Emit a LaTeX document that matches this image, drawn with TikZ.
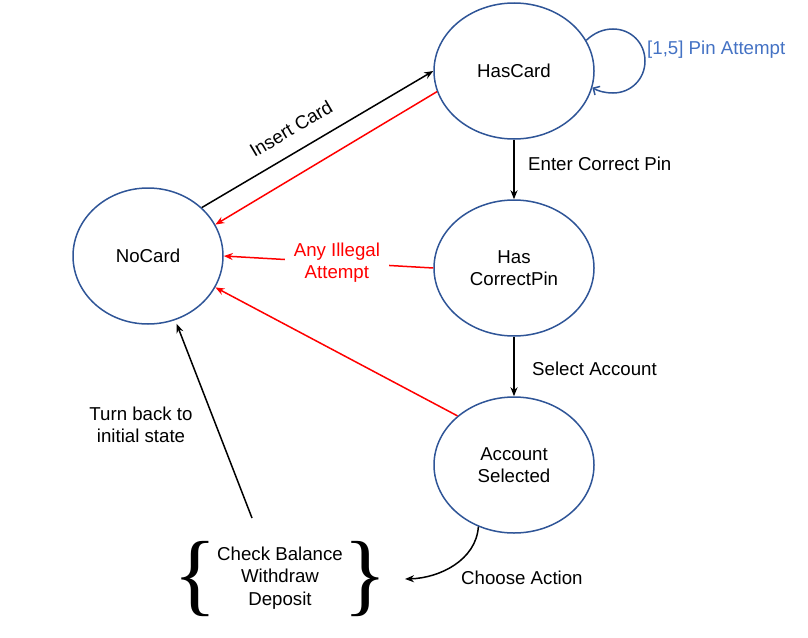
\documentclass[tikz,border=0pt]{standalone}
\usepackage{fontspec}
\setmainfont{Liberation Sans}
\newfontfamily\bracefont{Liberation Serif}
\usetikzlibrary{shapes.geometric,arrows.meta}
\definecolor{stateblue}{RGB}{47,85,151}
\definecolor{labelblue}{RGB}{68,114,196}
\definecolor{errred}{RGB}{255,0,0}
\begin{document}
\begin{tikzpicture}[x=1pt,y=-1pt,
  every node/.style={font=\fontsize{18.67}{22.5}\selectfont},
  state/.style={ellipse, draw=stateblue, line width=1.5pt, minimum width=160pt, minimum height=136pt, inner sep=0pt, align=center},
  flow/.style={line width=1.5pt, -{Stealth[length=9pt,width=7pt]}},
  errflow/.style={flow, draw=errred},
  lbl/.style={inner sep=0pt, align=center},
  bracesym/.style={inner sep=0pt, font=\bracefont\fontsize{91}{91}\selectfont}]
\useasboundingbox (0,0) rectangle (808,637);
% states
\node[state] (hc) at (514,71) {HasCard};
\node[state, minimum width=150pt] (nc) at (148,256) {NoCard};
\node[state] (hcp) at (514,268) {Has\\CorrectPin};
\node[state] (as) at (514,465) {Account\\Selected};
% self loop
\node[lbl, text=labelblue, anchor=west] (pa) at (647,50) {[1,5] Pin Attempt};
\draw[line width=1.5pt, draw=stateblue, -{Straight Barb[length=5pt,width=10pt]}]
  (hc.23) .. controls (594,33) and (603,29) .. (613,29)
  .. controls (631,29) and (645,43) .. (645,61)
  .. controls (645,79) and (631,93) .. (613,93)
  .. controls (605,93) and (598,91) .. (hc.-12);
% insert card
\draw[flow] (nc.42) -- node[lbl, sloped, above=15pt, pos=0.435] (ic) {Insert Card} (hc.180);
\draw[errflow] (hc.195) -- (nc.25);
% illegal
\draw[errflow] (hcp.west) -- node[lbl, fill=white, text=errred, inner xsep=9pt, inner ysep=1pt, pos=0.46] (ill) {Any Illegal\\Attempt} (nc.east);
\draw[errflow] (as.139) -- (nc.-25);
% vertical flows
\draw[flow] (hc.south) -- (hcp.north);
\node[lbl, anchor=west] (ecp) at (528,164) {Enter Correct Pin};
\draw[flow] (hcp.south) -- (as.north);
\node[lbl, anchor=west] (sa) at (532,369) {Select Account};
% actions
\node[lbl] (acts) at (280,578) {Check Balance\\Withdraw\\Deposit};
\node[bracesym] (lb) at (195,579) {\{};
\node[bracesym] (rb) at (365,579) {\}};
\coordinate (cat) at (405,579);
\draw[flow] (as.-120) .. controls (476,560) and (440,578) .. (cat);
\node[lbl, anchor=west] (ca) at (461,578) {Choose Action};
% turn back
\coordinate (tb) at (252,518);
\draw[flow, shorten >=4pt] (tb) -- (nc.-67);
\node[lbl] (tbl) at (141,425) {Turn back to\\initial state};
\end{tikzpicture}
\end{document}
